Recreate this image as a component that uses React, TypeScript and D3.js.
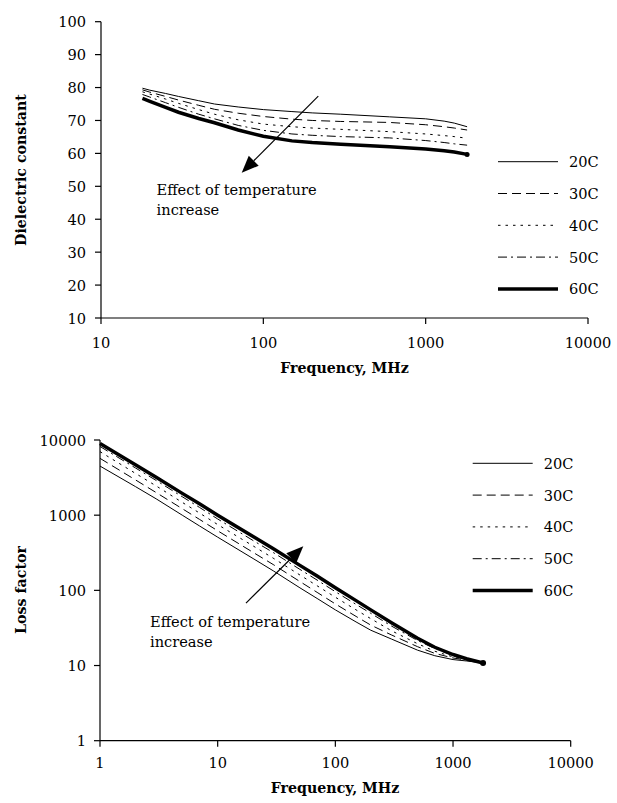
import React from "react";
import * as d3 from "d3";

const seriesNames = ["20C", "30C", "40C", "50C", "60C"];

// Top chart: dielectric constant vs frequency
const freqTop = [18, 20, 25, 30, 40, 50, 70, 100, 150, 200, 300, 600, 1000, 1300, 1500, 1800];
const dc20 = [79.8, 79.2, 78.2, 77.3, 76, 75, 74.1, 73.3, 72.7, 72.3, 71.9, 71.1, 70.5, 69.8, 69.2, 68.1];
const dc30 = [79.3, 78.6, 77.3, 76.2, 74.6, 73.4, 72.2, 71.2, 70.4, 70, 69.7, 69.4, 68.7, 68.1, 67.7, 67.1];
const dc40 = [78.7, 78, 76.5, 75.2, 73.3, 71.9, 70.2, 68.9, 68.1, 67.7, 67.3, 66.6, 65.9, 65.4, 65.1, 64.6];
const dc50 = [77.9, 77.1, 75.4, 74, 71.9, 70.5, 68.5, 67, 65.9, 65.5, 65.1, 64.7, 63.9, 63.3, 62.9, 62.5];
const dc60 = [76.7, 75.8, 74, 72.5, 70.6, 69.3, 67.1, 65.2, 63.8, 63.3, 62.8, 62, 61.3, 60.8, 60.4, 59.7];

// Bottom chart: loss factor vs frequency
const freqBot = [1, 2, 3, 5, 7, 10, 20, 30, 50, 70, 100, 150, 200, 300, 500, 700, 1000, 1300, 1800];
const lf20 = [4500, 2400, 1650, 1000, 720, 510, 265, 180, 108, 78, 55, 38, 29.5, 22.5, 16, 13.5, 12, 11.5, 10.8];
const lf30 = [5700, 2950, 2000, 1220, 880, 620, 320, 218, 131, 94, 66, 45, 34.5, 25.5, 17.8, 14.5, 12.6, 11.8, 10.8];
const lf40 = [7000, 3600, 2450, 1480, 1070, 750, 390, 265, 160, 115, 81, 55, 42, 29, 19.5, 15.5, 13, 12, 10.8];
const lf50 = [8200, 4250, 2900, 1760, 1270, 890, 460, 315, 190, 137, 96, 65, 49.5, 33.5, 21.5, 16.8, 13.6, 12.2, 10.8];
const lf60 = [9000, 4700, 3200, 1950, 1420, 1000, 520, 355, 215, 155, 108, 73, 55, 37, 23, 17.5, 14, 12.3, 10.8];

const yTicksTop = [10, 20, 30, 40, 50, 60, 70, 80, 90, 100];
const xTicksTop = [10, 100, 1000, 10000];
const yTicksBot = [1, 10, 100, 1000, 10000];
const xTicksBot = [1, 10, 100, 1000, 10000];

const styles = [
  { w: 1, dash: "" },
  { w: 1, dash: "9,5" },
  { w: 1, dash: "2.5,5" },
  { w: 1, dash: "9,4,2,4" },
  { w: 3.5, dash: "" },
];

const FONT = "DejaVu Serif, serif";
const FS = 14.6;
const FSB = 14.2;

function Arrow({ x1, y1, x2, y2 }: { x1: number; y1: number; x2: number; y2: number }) {
  const ang = Math.atan2(y2 - y1, x2 - x1);
  const L = 17, W = 7;
  const bx = x2 - L * Math.cos(ang), by = y2 - L * Math.sin(ang);
  const px = -Math.sin(ang) * W, py = Math.cos(ang) * W;
  return (
    <g>
      <line x1={x1} y1={y1} x2={bx} y2={by} stroke="#000" strokeWidth={1.2} />
      <polygon points={`${x2},${y2} ${bx + px},${by + py} ${bx - px},${by - py}`} fill="#000" />
    </g>
  );
}

function Legend({ x, y, gap }: { x: number; y: number; gap: number }) {
  return (
    <g>
      {seriesNames.map((n, i) => (
        <g key={n} transform={`translate(${x},${y + i * gap})`}>
          <line x1={0} x2={60} y1={0} y2={0} stroke="#000" strokeWidth={styles[i].w} strokeDasharray={styles[i].dash} />
          <text x={71} y={5.5} fontSize={FS} style={{ fontFamily: FONT }}>{n}</text>
        </g>
      ))}
    </g>
  );
}

export default function App() {
  const xT = d3.scaleLog().domain([10, 10000]).range([101, 588]);
  const yT = d3.scaleLinear().domain([10, 100]).range([318, 21.7]);
  const xB = d3.scaleLog().domain([1, 10000]).range([100, 570.7]);
  const yB = d3.scaleLog().domain([1, 10000]).range([740.7, 440]);

  const topSeries = [dc20, dc30, dc40, dc50, dc60];
  const botSeries = [lf20, lf30, lf40, lf50, lf60];

  const lineT = d3.line<number>().x((_, i) => xT(freqTop[i])).y((d) => yT(d));
  const lineB = d3.line<number>().x((_, i) => xB(freqBot[i])).y((d) => yB(d));

  const tx = { fontFamily: FONT };

  return (
    <svg width={617} height={803} style={{ position: "absolute", left: 0, top: 0, background: "#fff" }}>
      <g>
        <line x1={xT(10)} x2={xT(10)} y1={yT(10)} y2={yT(100)} stroke="#000" strokeWidth={1.2} />
        <line x1={xT(10)} x2={xT(10000)} y1={yT(10)} y2={yT(10)} stroke="#000" strokeWidth={1.2} />
        {yTicksTop.map((t) => (
          <g key={t}>
            <line x1={xT(10) - 6} x2={xT(10)} y1={yT(t)} y2={yT(t)} stroke="#000" strokeWidth={1.2} />
            <text x={86} y={yT(t) + 5.5} textAnchor="end" fontSize={FS} style={tx}>{t}</text>
          </g>
        ))}
        {xTicksTop.map((t) => (
          <g key={t}>
            <line x1={xT(t)} x2={xT(t)} y1={yT(10)} y2={yT(10) + 6} stroke="#000" strokeWidth={1.2} />
            <text x={xT(t)} y={yT(10) + 30} textAnchor="middle" fontSize={FS} style={tx}>{t}</text>
          </g>
        ))}
        {topSeries.map((s, i) => (
          <path key={i} d={lineT(s) || ""} fill="none" stroke="#000" strokeWidth={styles[i].w} strokeDasharray={styles[i].dash} />
        ))}
        <circle cx={xT(freqTop[freqTop.length - 1])} cy={yT(dc60[dc60.length - 1])} r={2.5} fill="#000" />
        <text x={344.5} y={373} textAnchor="middle" fontSize={FSB} fontWeight="bold" style={tx}>Frequency, MHz</text>
        <text transform={`translate(26,170) rotate(-90)`} textAnchor="middle" fontSize={FSB} fontWeight="bold" style={tx}>Dielectric constant</text>
        <Arrow x1={xT(218)} y1={yT(77.4)} x2={xT(73.6)} y2={yT(54.1)} />
        <text x={xT(22)} y={yT(47.3)} fontSize={FS} style={tx}>Effect of temperature</text>
        <text x={xT(22)} y={yT(47.3) + 20} fontSize={FS} style={tx}>increase</text>
        <Legend x={498} y={161.7} gap={31.8} />
      </g>

      <g>
        <line x1={xB(1)} x2={xB(1)} y1={yB(1)} y2={yB(10000)} stroke="#000" strokeWidth={1.2} />
        <line x1={xB(1)} x2={xB(10000)} y1={yB(1)} y2={yB(1)} stroke="#000" strokeWidth={1.2} />
        {yTicksBot.map((t) => (
          <g key={t}>
            <line x1={xB(1) - 6} x2={xB(1)} y1={yB(t)} y2={yB(t)} stroke="#000" strokeWidth={1.2} />
            <text x={86} y={yB(t) + 5.5} textAnchor="end" fontSize={FS} style={tx}>{t}</text>
          </g>
        ))}
        {xTicksBot.map((t) => (
          <g key={t}>
            <line x1={xB(t)} x2={xB(t)} y1={yB(1)} y2={yB(1) + 6} stroke="#000" strokeWidth={1.2} />
            <text x={xB(t)} y={yB(1) + 27.5} textAnchor="middle" fontSize={FS} style={tx}>{t}</text>
          </g>
        ))}
        {botSeries.map((s, i) => (
          <path key={i} d={lineB(s) || ""} fill="none" stroke="#000" strokeWidth={styles[i].w} strokeDasharray={styles[i].dash} />
        ))}
        <circle cx={xB(freqBot[freqBot.length - 1])} cy={yB(lf60[lf60.length - 1])} r={3} fill="#000" />
        <text x={335} y={793} textAnchor="middle" fontSize={FSB} fontWeight="bold" style={tx}>Frequency, MHz</text>
        <text transform={`translate(26,590) rotate(-90)`} textAnchor="middle" fontSize={FSB} fontWeight="bold" style={tx}>Loss factor</text>
        <Arrow x1={xB(17.4)} y1={yB(67.6)} x2={xB(53.4)} y2={yB(386)} />
        <text x={xB(2.66)} y={yB(32.4)} fontSize={FS} style={tx}>Effect of temperature</text>
        <text x={xB(2.66)} y={yB(32.4) + 20} fontSize={FS} style={tx}>increase</text>
        <Legend x={472.7} y={463.3} gap={31.8} />
      </g>
    </svg>
  );
}
